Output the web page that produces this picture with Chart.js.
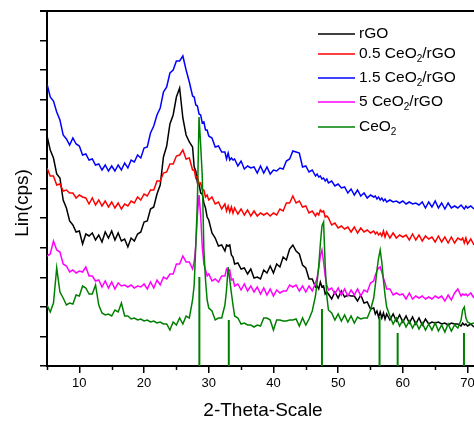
<!DOCTYPE html>
<html><head><meta charset="utf-8">
<script src="https://cdn.jsdelivr.net/npm/chart.js@4.4.0/dist/chart.umd.min.js"></script>
<style>html,body{margin:0;padding:0;background:#fff;overflow:hidden}canvas{display:block}</style>
</head><body>
<canvas id="c" width="474" height="421"></canvas>
<script>
const twoTheta = [5,5.5,6,6.5,7,7.5,8,8.5,9,9.5,10,10.5,11,11.5,12,12.5,13,13.5,14,14.5,15,15.5,16,16.5,17,17.5,18,18.5,19,19.5,20,20.5,21,21.5,22,22.5,23,23.5,24,24.5,25,25.5,26,26.5,27,
27.5,27.75,28,28.25,28.5,28.75,29,29.25,29.5,29.75,30,
30.5,31,31.5,32,32.5,32.75,33,33.25,33.5,33.75,34,
34.5,35,35.5,36,36.5,37,37.5,38,38.5,39,39.5,40,40.5,41,41.5,42,42.5,43,43.5,44,44.5,45,45.5,46,46.5,
46.75,47,47.25,47.5,47.75,48,48.25,
48.5,49,49.5,50,50.5,51,51.5,52,52.5,53,53.5,54,54.5,55,55.5,
55.75,56,56.25,56.5,56.75,57,57.25,
57.5,58,58.5,59,59.5,60,60.5,61,61.5,62,62.5,63,63.5,64,64.5,65,65.5,66,66.5,67,67.5,68,68.5,69,
69.25,69.5,69.75,70,70.5,71];

const rGO = [230,216,208,192,188,166,158,145,141,134,135,122,132,130,133,126,131,124,134,128,135,126,133,125,127,119,128,125,132,134,144,145,157,159,172,181,209,220,242,251,269,278,248,231,224,
219,199,195,183,182,173,172,163,158,149,146,
133,128,120,121,115,121,120,121,111,109,102,
103,97,98,92,97,88,89,87,96,93,100,93,102,99,109,106,117,121,115,112,101,98,87,87,79,
80,77,84,79,80,72,74,
72,67,74,68,75,69,71,70,70,65,71,63,64,57,58,
52,55,49,54,48,53,47,
52,46,52,45,51,44,50,43,49,42,48,41,47,42,44,43,44,42,43,41,43,42,42,40,
43,41,42,40,42,39];

const ceo2rgo05 = [198,190,190,181,182,175,176,173,173,168,171,169,168,162,168,161,166,160,165,159,164,158,163,157,162,160,165,163,169,166,172,170,176,176,185,185,193,194,202,202,210,211,216,207,208,
196,196,188,190,182,183,176,176,169,171,166,
169,162,164,157,162,155,160,154,159,153,158,
152,157,151,156,150,155,150,153,151,153,150,153,151,157,155,163,163,170,163,165,159,160,153,155,150,
153,151,156,154,155,149,150,
148,141,143,138,140,137,139,134,139,133,138,134,136,133,135,
132,134,131,133,130,135,129,
134,128,133,128,131,129,131,126,132,126,131,125,130,127,129,124,130,124,129,123,129,123,128,126,
128,123,128,122,127,121];

const ceo2rgo15 = [282,269,265,254,246,231,227,221,228,222,220,211,212,206,207,201,202,196,201,195,200,195,201,196,203,198,206,204,211,208,218,219,233,240,251,258,274,279,293,296,305,305,310,296,284,
270,269,261,260,252,251,243,244,236,236,230,
228,219,220,214,214,207,213,206,208,206,207,
200,205,197,200,198,199,193,200,193,199,192,196,195,198,197,205,207,215,214,213,199,200,194,196,190,
192,189,190,187,188,185,187,
183,185,180,182,178,179,173,177,171,176,170,173,168,171,169,
170,167,169,166,168,165,167,
164,166,164,165,163,165,162,164,162,163,161,164,158,164,159,165,158,163,157,163,158,160,158,161,
159,157,160,158,160,157];

const ceo2rgo5 = [110,112,125,116,114,102,100,94,96,93,95,94,99,90,90,85,86,79,85,78,84,77,83,80,81,79,81,78,80,79,82,77,84,78,86,81,89,87,92,92,102,102,110,104,104,
97,104,121,151,171,151,119,102,96,90,92,
85,87,84,90,90,97,95,96,86,87,80,
82,76,82,75,80,74,79,72,78,71,77,70,76,73,75,75,81,79,81,75,80,74,80,75,83,
88,98,110,116,104,90,81,
76,78,72,78,71,77,70,76,71,77,70,76,74,83,85,
91,95,98,99,94,88,83,
77,77,71,73,71,72,67,73,67,70,68,70,67,69,67,70,68,70,65,71,66,73,77,70,
72,71,72,70,73,68];

const ceo2 = [61,54,63,98,74,68,61,63,62,71,70,80,78,72,72,81,61,53,51,52,50,56,54,63,50,50,47,48,46,47,45,46,44,45,43,44,42,42,36,44,41,48,42,50,48,
66,81,121,166,249,221,190,116,86,66,58,
55,46,48,48,61,76,99,86,73,61,50,
48,42,43,41,41,39,41,40,48,48,46,36,46,46,45,45,46,46,47,40,48,41,47,55,70,
84,100,122,140,144,100,70,
56,53,46,52,45,51,44,50,43,49,47,48,48,56,68,
81,96,108,116,104,86,71,
59,50,42,48,40,46,39,45,38,44,37,43,36,42,36,43,35,41,34,42,35,41,38,46,
56,59,48,44,42,43];

const refPositions = [28.55, 33.1, 47.5, 56.4, 59.2, 69.45];
const refHeights = [89, 46, 57, 49, 33, 33];

const seriesLabels = ['rGO', '0.5 CeO₂/rGO', '1.5 CeO₂/rGO', '5 CeO₂/rGO', 'CeO₂'];
const seriesColors = ['#000000', '#ff0000', '#0000ff', '#ff00ff', '#008000'];
const minorTicks = [5, 15, 25, 35, 45, 55, 65];
const xTitle = '2-Theta-Scale';
const yTitle = 'Lin(cps)';

const FONT = "'Liberation Sans', Arial, sans-serif";
Chart.defaults.font.family = FONT;

const seriesValues = [rGO, ceo2rgo05, ceo2rgo15, ceo2rgo5, ceo2];
const drawOrder = [5, 4, 3, 2, 1];
const datasets = seriesValues.map((vals, k) => ({
  label: seriesLabels[k],
  data: twoTheta.map((t, i) => ({ x: t, y: vals[i] })),
  borderColor: seriesColors[k],
  borderWidth: 1.5,
  pointRadius: 0,
  fill: false,
  order: drawOrder[k]
}));
const stickData = [];
refPositions.forEach((p, i) => {
  stickData.push({ x: p, y: 0 }, { x: p, y: refHeights[i] }, { x: p, y: null });
});
datasets.push({
  label: 'CeO₂ reference',
  data: stickData,
  borderColor: '#008000',
  borderWidth: 2,
  pointRadius: 0,
  spanGaps: false,
  order: 0
});

function drawRich(ctx, text, x, y, size) {
  const parts = text.split('₂');
  let cx = x;
  parts.forEach((p, i) => {
    ctx.font = size + 'px ' + FONT;
    ctx.fillText(p, cx, y);
    cx += ctx.measureText(p).width;
    if (i < parts.length - 1) {
      ctx.font = Math.round(size * 0.65) + 'px ' + FONT;
      ctx.fillText('2', cx, y + size * 0.33);
      cx += ctx.measureText('2').width;
    }
  });
}

const frame = {
  id: 'frame',
  afterDraw(chart) {
    const { ctx, chartArea: a } = chart;
    const x = chart.scales.x;
    ctx.save();
    ctx.strokeStyle = '#000';
    ctx.lineWidth = 2;
    ctx.beginPath();
    ctx.moveTo(a.left - 7, a.top);
    ctx.lineTo(chart.width, a.top);
    ctx.stroke();
    ctx.lineWidth = 1.5;
    minorTicks.forEach(v => {
      const px = Math.round(x.getPixelForValue(v)) + 0.5;
      ctx.beginPath();
      ctx.moveTo(px, a.bottom);
      ctx.lineTo(px, a.bottom + 4);
      ctx.stroke();
    });
    ctx.fillStyle = '#000';
    ctx.textAlign = 'center';
    ctx.textBaseline = 'middle';
    ctx.font = '19px ' + FONT;
    ctx.fillText(xTitle, 263, 411);
    ctx.save();
    ctx.translate(23, 203);
    ctx.rotate(-Math.PI / 2);
    ctx.fillText(yTitle, 0, 0);
    ctx.restore();
    const rows = [34, 54, 78, 102, 127];
    ctx.textAlign = 'left';
    seriesLabels.forEach((lab, k) => {
      const y = rows[k];
      ctx.strokeStyle = seriesColors[k];
      ctx.lineWidth = 1.5;
      ctx.beginPath();
      ctx.moveTo(318, y);
      ctx.lineTo(355, y);
      ctx.stroke();
      ctx.fillStyle = '#000';
      drawRich(ctx, lab, 359, y, 15.5);
    });
    ctx.restore();
  }
};

new Chart(document.getElementById('c'), {
  type: 'line',
  data: { datasets },
  options: {
    responsive: false,
    animation: false,
    devicePixelRatio: 1,
    layout: { padding: { top: 11, left: 0, right: 0, bottom: 0 } },
    plugins: { legend: { display: false }, tooltip: { enabled: false } },
    elements: { point: { radius: 0 }, line: { tension: 0 } },
    scales: {
      x: {
        type: 'linear', min: 5, max: 71,
        ticks: { stepSize: 10, includeBounds: false, autoSkip: false, maxRotation: 0, color: '#000', font: { size: 13 }, padding: 3 },
        grid: { display: true, drawOnChartArea: false, drawTicks: true, tickLength: 7, color: '#000', tickColor: '#000', lineWidth: 1.5 },
        border: { display: true, color: '#000', width: 2 },
        afterFit(s) { s.height = 55; s.paddingLeft = 0; s.paddingRight = 0; }
      },
      y: {
        min: 0, max: 355,
        ticks: { display: false, count: 13 },
        grid: { display: true, drawOnChartArea: false, drawTicks: true, tickLength: 7, color: '#000', tickColor: '#000', lineWidth: 1.5 },
        border: { display: true, color: '#000', width: 2 },
        afterFit(s) { s.width = 47; s.paddingTop = 0; s.paddingBottom = 0; }
      }
    }
  },
  plugins: [frame]
});
</script>
</body></html>
